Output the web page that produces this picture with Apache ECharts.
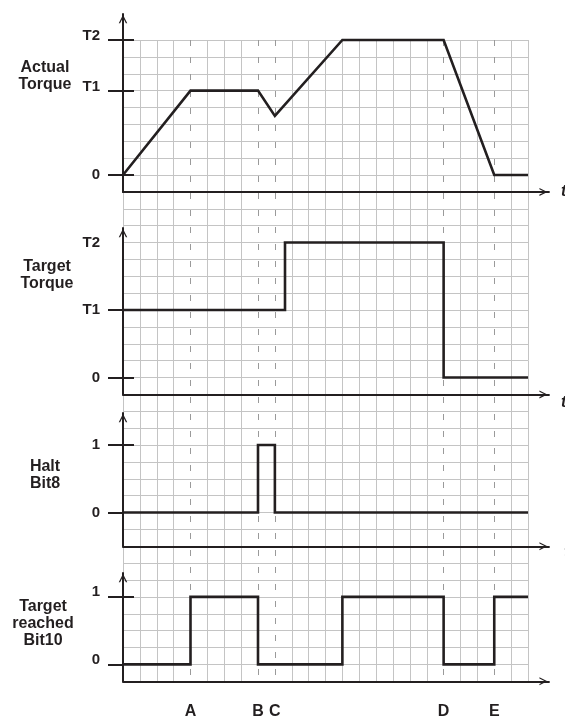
<!DOCTYPE html>
<html>
<head>
<meta charset="utf-8">
<title>Torque mode timing</title>
<script src="https://cdn.jsdelivr.net/npm/echarts@6/dist/echarts.min.js"></script>
<style>
  html, body { margin: 0; padding: 0; background: #fff; }
  #main { width: 565px; height: 720px; }
</style>
</head>
<body>
<div id="main"></div>
<script>
// time runs in grid columns (0..24), events sit on the dashed columns
var eventNames = ['A', 'B', 'C', 'D', 'E']
var eventX = [4, 8, 9, 19, 22]

// actual torque (grid rows above 0)
var actualX = [0, 4, 8, 9, 13, 19, 22, 24]
var actualY = [0, 5, 5, 3.5, 8, 8, 0, 0]
var actualTicks = [0, 5, 8]
var actualTickNames = ['0', 'T1', 'T2']

// target torque (grid rows above 0), drawn as steps
var targetX = [0, 9.6, 19, 24]
var targetY = [4, 8, 0, 0]
var targetTicks = [0, 4, 8]
var targetTickNames = ['0', 'T1', 'T2']

// status bits
var haltX = [0, 8, 9, 24]
var haltY = [0, 1, 0, 0]
var reachedX = [0, 4, 8, 13, 19, 22, 24]
var reachedY = [0, 1, 0, 1, 0, 1, 1]
var bitTicks = [0, 1]
var bitTickNames = ['0', '1']

var ink = '#231f20'
var fontFamily = "'Liberation Sans', Arial, Helvetica, sans-serif"
var cell = 16.875
var gridLeft = 123
var gridTop = 40
var cols = 24
var rows = 38
var xEnd = 25.24
var arrow = 'path://M0,10L5,0L10,10L8.4,10L5,3.2L1.6,10Z'

// labels in "raised" sit just above their tick, as in the source drawing
var panels = [
  { title: 'Actual\nTorque', tx: 45, ty: 76, zeroRow: 8, unit: 1, min: -1, max: 9.54,
    xs: actualX, ys: actualY, step: false, tickOut: actualTicks, tickIn: actualTicks,
    labels: [0], raised: [5, 8], raiseH: 8, ticks: actualTicks, names: actualTickNames,
    tName: 't', tAlign: 'middle', tLine: 16, tGap: 12 },
  { title: 'Target\nTorque', tx: 47, ty: 275, zeroRow: 20, unit: 1, min: -1, max: 8.86,
    xs: targetX, ys: targetY, step: 'end', tickOut: [0, 4], tickIn: [0],
    labels: targetTicks, raised: [], raiseH: 8, ticks: targetTicks, names: targetTickNames,
    tName: 't', tAlign: 'top', tLine: 16, tGap: 12 },
  { title: 'Halt\nBit8', tx: 45, ty: 475, zeroRow: 28, unit: 4, min: -0.5, max: 1.474,
    xs: haltX, ys: haltY, step: 'end', tickOut: bitTicks, tickIn: [1],
    labels: bitTicks, raised: [], raiseH: 8, ticks: bitTicks, names: bitTickNames,
    tName: 't', tAlign: 'top', tLine: 12, tGap: 15 },
  { title: 'Target\nreached\nBit10', tx: 43, ty: 624, zeroRow: 37, unit: 4, min: -0.25, max: 1.354,
    xs: reachedX, ys: reachedY, step: 'end', tickOut: bitTicks, tickIn: [1],
    labels: [], raised: bitTicks, raiseH: 10, ticks: bitTicks, names: bitTickNames,
    tName: '', tAlign: 'middle', tLine: 16, tGap: 12 }
]

function pairs (xs, ys) {
  return xs.map(function (x, i) { return [x, ys[i]] })
}

var splitColorsX = []
for (var c = 0; c <= cols; c++) {
  splitColorsX.push(eventX.indexOf(c) >= 0 ? 'rgba(0,0,0,0)' : '#c4c4c4')
}

var grids = [{ left: gridLeft, top: gridTop, width: cols * cell, height: rows * cell, outerBoundsMode: 'none' }]
var xAxes = [{
  type: 'value', gridIndex: 0, min: 0, max: cols, interval: 1, z: 0,
  axisLine: { show: false }, axisTick: { show: false }, axisLabel: { show: false },
  splitLine: { show: true, lineStyle: { color: splitColorsX, width: 1 } }
}]
var yAxes = [{
  type: 'value', gridIndex: 0, min: 0, max: rows, interval: 1, inverse: true, z: 0,
  axisLine: { show: false }, axisTick: { show: false }, axisLabel: { show: false },
  splitLine: { show: true, lineStyle: { color: '#c4c4c4', width: 1 } }
}]
var series = [{
  type: 'line', xAxisIndex: 0, yAxisIndex: 0, data: [], silent: true,
  markLine: {
    silent: true, symbol: ['none', 'none'], animation: false,
    label: { show: false },
    lineStyle: { color: '#9a9a9a', width: 1, type: [6, 11] },
    data: eventX.map(function (x) { return { xAxis: x } })
  }
}]
var graphics = []

function tickLabel (p, values, vAlign, lh) {
  return {
    show: values.length > 0, customValues: values, margin: 23,
    verticalAlign: vAlign, lineHeight: lh,
    color: ink, fontWeight: 'bold', fontSize: 15, fontFamily: fontFamily,
    formatter: function (v) { return p.names[p.ticks.indexOf(v)] || '' }
  }
}

panels.forEach(function (p, i) {
  var g = i + 1
  var zeroY = gridTop + p.zeroRow * cell
  var top = zeroY - p.max * p.unit * cell
  grids.push({ left: gridLeft, top: top, width: xEnd * cell, height: (p.max - p.min) * p.unit * cell,
    outerBoundsMode: 'none', containLabel: false })

  var last = i === panels.length - 1
  xAxes.push({
    type: 'value', gridIndex: g, min: 0, max: xEnd, z: 3,
    name: p.tName, nameLocation: 'end', nameGap: p.tGap,
    nameTextStyle: { color: ink, fontStyle: 'italic', fontWeight: 'bold', fontSize: 16, fontFamily: fontFamily,
      verticalAlign: p.tAlign, lineHeight: p.tLine },
    axisLine: { show: true, onZero: false, symbol: ['none', arrow], symbolSize: [8, 11], symbolOffset: [0, -5.5],
      lineStyle: { color: ink, width: 2 } },
    axisTick: { show: false },
    axisLabel: {
      show: last, customValues: eventX, margin: 22,
      color: ink, fontWeight: 'bold', fontSize: 16, fontFamily: fontFamily,
      formatter: function (v) { return eventNames[eventX.indexOf(v)] || '' }
    },
    splitLine: { show: false }
  })

  yAxes.push({
    type: 'value', gridIndex: g, position: 'left', min: p.min, max: p.max, z: 3,
    axisLine: { show: true, onZero: false, symbol: ['none', arrow], symbolSize: [8.5, 10], symbolOffset: [0, -5],
      lineStyle: { color: ink, width: 2 } },
    axisTick: { show: true, inside: false, length: 15, customValues: p.tickOut,
      lineStyle: { color: ink, width: 2 } },
    axisLabel: tickLabel(p, p.labels, 'middle', 15),
    splitLine: { show: false }
  })
  yAxes.push({
    type: 'value', gridIndex: g, position: 'left', min: p.min, max: p.max, z: 3,
    axisLine: { show: false, onZero: false },
    axisTick: { show: true, inside: true, length: 11, customValues: p.tickIn,
      lineStyle: { color: ink, width: 2 } },
    axisLabel: tickLabel(p, p.raised, 'bottom', p.raiseH),
    splitLine: { show: false }
  })

  series.push({
    type: 'line', xAxisIndex: g, yAxisIndex: yAxes.length - 2,
    data: pairs(p.xs, p.ys), step: p.step, symbol: 'none', z: 5, silent: true,
    lineStyle: { color: ink, width: 2.6, join: 'miter', cap: 'butt' }
  })

  graphics.push({
    type: 'text', x: p.tx, y: p.ty, z: 10,
    style: { text: p.title, fill: ink, font: 'bold 16px ' + fontFamily,
      textAlign: 'center', textVerticalAlign: 'middle', lineHeight: 17 }
  })
})

var chart = echarts.init(document.getElementById('main'))
chart.setOption({
  animation: false,
  backgroundColor: '#fff',
  grid: grids,
  xAxis: xAxes,
  yAxis: yAxes,
  series: series,
  graphic: graphics
})
</script>
</body>
</html>
